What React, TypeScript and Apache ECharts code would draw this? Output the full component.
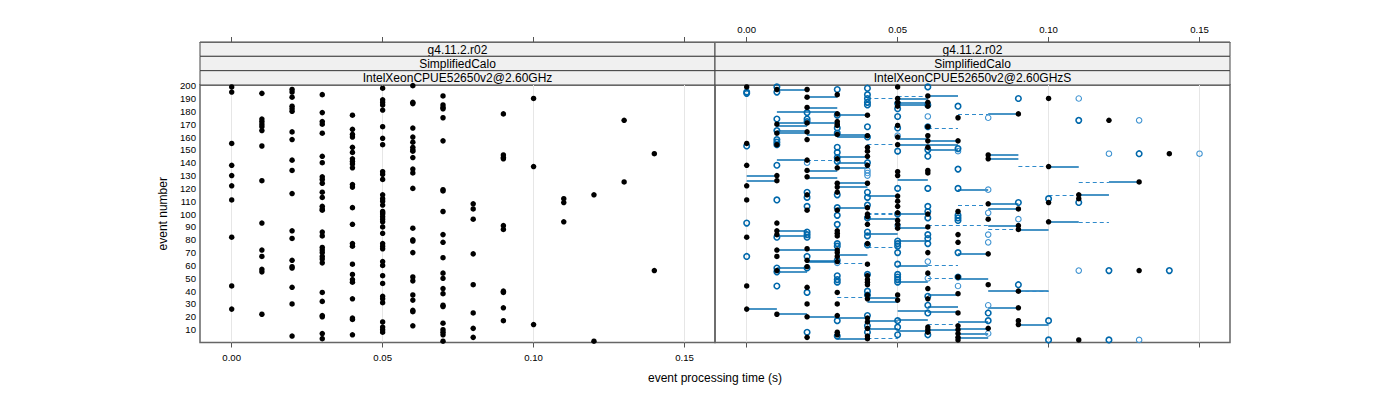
import React, { useEffect, useRef } from "react";
import * as echarts from "echarts";

// ---------- axis ticks / labels ----------
const xTicks = [0, 0.05, 0.1, 0.15];
const yTicks = [10, 20, 30, 40, 50, 60, 70, 80, 90, 100, 110, 120, 130, 140, 150, 160, 170, 180, 190, 200];
const stripLeft = ["g4.11.2.r02", "SimplifiedCalo", "IntelXeonCPUE52650v2@2.60GHz"];
const stripRight = ["g4.11.2.r02", "SimplifiedCalo", "IntelXeonCPUE52650v2@2.60GHzS"];
const xTitle = "event processing time (s)";
const yTitle = "event number";

// ---------- left panel: event numbers per processing time (s) ----------
const leftTimes = [0.0, 0.01, 0.02, 0.03, 0.04, 0.05, 0.06, 0.07, 0.08, 0.09, 0.1, 0.11, 0.12, 0.13, 0.14];
const leftT000 = [199, 195, 155, 138, 130, 122, 111, 82, 44, 26];
const leftT001 = [194, 174, 172, 170, 168, 165, 153, 126, 93, 72, 67, 57, 55, 22];
const leftT002 = [197, 195, 191, 184, 182, 180, 164, 158, 142, 134, 116, 87, 81, 64, 59, 58, 43, 30, 5];
const leftT003 = [193, 179, 172, 170, 163, 145, 140, 129, 127, 124, 117, 113, 106, 104, 103, 86, 83, 74, 72, 70, 67, 65, 62, 39, 32, 21, 20, 7, 3];
const leftT004 = [177, 166, 162, 160, 152, 148, 143, 141, 139, 136, 123, 121, 105, 92, 77, 75, 61, 53, 49, 47, 34, 19, 18, 6];
const leftT005 = [198, 189, 187, 185, 181, 168, 159, 154, 133, 131, 127, 115, 112, 110, 107, 102, 101, 100, 98, 96, 94, 90, 85, 77, 75, 73, 63, 60, 52, 46, 36, 34, 31, 16, 12, 10, 8];
const leftT006 = [200, 187, 186, 167, 160, 156, 152, 150, 149, 144, 135, 132, 120, 89, 80, 79, 70, 51, 48, 37, 33, 25, 24, 13];
const leftT007 = [192, 185, 183, 182, 175, 157, 119, 118, 102, 84, 78, 66, 54, 50, 42, 38, 29, 28, 15, 10, 8, 6, 1];
const leftT008 = [108, 104, 96, 69, 45, 23, 11, 4];
const leftT009 = [178, 146, 144, 143, 91, 88, 40, 39, 27, 17];
const leftT010 = [190, 137, 14];
const leftT011 = [112, 109, 94];
const leftT012 = [115, 1];
const leftT013 = [173, 125];
const leftT014 = [147, 56];
const leftColumns = [leftT000, leftT001, leftT002, leftT003, leftT004, leftT005, leftT006, leftT007, leftT008, leftT009, leftT010, leftT011, leftT012, leftT013, leftT014];

// ---------- right panel: [time in 1/100 s, event] ----------
const rightBlack = [
  [0, 199], [0, 155], [0, 138], [0, 122], [0, 111], [0, 82], [0, 44], [0, 26],
  [1, 197], [1, 170], [1, 163], [1, 154], [1, 130], [1, 126], [1, 93], [1, 87], [1, 84], [1, 72], [1, 67], [1, 56], [1, 22],
  [2, 197], [2, 191], [2, 183], [2, 171], [2, 164], [2, 158], [2, 142], [2, 134], [2, 129], [2, 115], [2, 103], [2, 73], [2, 64], [2, 59], [2, 43], [2, 30], [2, 20], [2, 4],
  [3, 193], [3, 178], [3, 172], [3, 170], [3, 169], [3, 162], [3, 143], [3, 136], [3, 124], [3, 121], [3, 117], [3, 103], [3, 87], [3, 85], [3, 83], [3, 72], [3, 70], [3, 67], [3, 63], [3, 39], [3, 30], [3, 21], [3, 8], [3, 6],
  [4, 177], [4, 161], [4, 152], [4, 149], [4, 145], [4, 138], [4, 124], [4, 105], [4, 100], [4, 98], [4, 92], [4, 77], [4, 61], [4, 52], [4, 49], [4, 47], [4, 45], [4, 37], [4, 34], [4, 19], [4, 16], [4, 11], [4, 5], [4, 3],
  [5, 199], [5, 190], [5, 187], [5, 184], [5, 169], [5, 160], [5, 154], [5, 133], [5, 130], [5, 114], [5, 110], [5, 106], [5, 101], [5, 95], [5, 92], [5, 89], [5, 37], [5, 33],
  [6, 192], [6, 187], [6, 184], [6, 168], [6, 161], [6, 157], [6, 152], [6, 134], [6, 132], [6, 100], [6, 90], [6, 70], [6, 54], [6, 42], [6, 34], [6, 12], [6, 10], [6, 8],
  [7, 175], [7, 157], [7, 102], [7, 84], [7, 78], [7, 51], [7, 38], [7, 23], [7, 13], [7, 10], [7, 7], [7, 4], [7, 2],
  [8, 146], [8, 143], [8, 108], [8, 96], [8, 69], [8, 45], [8, 11],
  [9, 178], [9, 104], [9, 91], [9, 88], [9, 40], [9, 27], [9, 17], [9, 14],
  [10, 190], [10, 137], [10, 109], [10, 94],
  [11, 115], [11, 112], [11, 2],
  [12, 173], [13, 125], [13, 56], [14, 147],
];
const rightBlueDark = [
  [0, 195], [0, 194], [0, 153], [0, 93], [0, 67],
  [1, 199], [1, 195], [1, 174], [1, 165], [1, 158], [1, 156], [1, 154], [1, 138], [1, 111], [1, 82], [1, 58], [1, 55], [1, 44],
  [2, 179], [2, 174], [2, 172], [2, 117], [2, 113], [2, 106], [2, 86], [2, 84], [2, 82], [2, 67], [2, 58], [2, 39], [2, 8],
  [3, 197], [3, 177], [3, 167], [3, 163], [3, 152], [3, 148], [3, 144], [3, 141], [3, 115], [3, 105], [3, 99], [3, 92], [3, 77], [3, 75], [3, 64], [3, 52], [3, 49], [3, 47], [3, 17], [3, 5],
  [4, 198], [4, 193], [4, 190], [4, 187], [4, 185], [4, 168], [4, 160], [4, 140], [4, 117], [4, 113], [4, 107], [4, 97], [4, 86], [4, 83], [4, 76], [4, 53], [4, 40], [4, 37], [4, 21], [4, 13], [4, 8],
  [5, 186], [5, 182], [5, 176], [5, 167], [5, 149], [5, 120], [5, 100], [5, 79], [5, 77], [5, 75], [5, 70], [5, 61], [5, 53], [5, 51], [5, 49], [5, 47], [5, 17], [5, 12], [5, 6],
  [6, 199], [6, 185], [6, 168], [6, 150], [6, 145], [6, 120], [6, 106], [6, 102], [6, 97], [6, 84], [6, 81], [6, 77], [6, 36], [6, 29], [6, 23], [6, 6],
  [7, 184], [7, 151], [7, 135], [7, 120], [7, 99], [7, 97], [7, 95], [7, 70], [7, 51],
  [9, 190], [11, 173], [13, 147], [10, 112], [11, 109], [9, 109], [12, 56], [14, 56], [9, 45], [8, 23], [8, 17], [10, 17], [10, 2], [12, 2],
];
const rightBlueLight = [
  [2, 140], [3, 62], [4, 134], [4, 132], [4, 130], [5, 161], [5, 91], [6, 176], [6, 63], [6, 50], [7, 149], [7, 44],
  [11, 190], [8, 175], [13, 173], [12, 147], [15, 147], [8, 119], [8, 101], [9, 96], [8, 84], [8, 78], [11, 56], [8, 29], [8, 7], [13, 2],
];
// [from, to (1/100 s), event]
const solidSegs = [
  [0, 1, 130], [0, 1, 126], [0, 1, 26],
  [1, 2, 197], [1, 3, 180], [1, 3, 171], [1, 2, 169], [1, 2, 165], [1, 2, 163], [1, 2, 142], [1, 2, 87], [1, 2, 83], [1, 3, 72], [1, 2, 58], [1, 2, 55], [1, 2, 22],
  [2, 3, 191], [2, 3, 183], [2, 4, 162], [2, 3, 134], [2, 3, 128], [2, 3, 64], [2, 3, 63], [2, 3, 20],
  [3, 4, 177], [3, 4, 160], [3, 4, 145], [3, 4, 140], [3, 4, 136], [3, 4, 124], [3, 4, 121], [3, 4, 105], [3, 4, 68], [3, 4, 19], [3, 4, 3],
  [4, 5, 114], [4, 5, 96], [4, 5, 85], [4, 5, 35], [4, 5, 32], [4, 5, 17], [4, 5, 11],
  [5, 6, 190], [5, 6, 187], [5, 6, 185], [5, 6, 159], [5, 7, 154], [5, 6, 127], [5, 6, 100], [5, 6, 89], [5, 6, 79], [5, 6, 60], [5, 6, 47], [5, 6, 25], [5, 6, 18], [5, 6, 9],
  [6, 7, 192], [6, 7, 157], [6, 7, 150], [6, 7, 37], [6, 7, 28], [6, 7, 24], [6, 7, 10],
  [7, 8, 119], [7, 8, 69], [7, 8, 50], [7, 8, 16], [7, 8, 11], [7, 8, 7], [7, 8, 4],
  [8, 9, 178], [8, 9, 146], [8, 9, 143], [10, 11, 137], [12, 13, 125], [11, 12, 115], [8, 9, 108], [8, 9, 104],
  [10, 11, 94], [8, 9, 91], [9, 10, 88], [8, 10, 40], [8, 9, 27], [9, 10, 14],
];
const dashedSegs = [
  [2, 3, 142], [4, 5, 190], [4, 5, 154], [4, 5, 101], [5, 6, 192], [6, 7, 167], [7, 8, 178], [7, 8, 107], [9, 10, 137], [11, 12, 125], [10, 11, 115],
  [3, 4, 62], [3, 4, 35], [4, 5, 100], [4, 5, 74], [4, 5, 3], [6, 8, 91], [6, 7, 60], [6, 7, 50], [6, 7, 14], [11, 12, 94], [8, 9, 88], [9, 10, 40],
];

const FONT = "'Liberation Sans', Arial, Helvetica, sans-serif";
const X_MIN = -0.0105;
const X_MAX = 0.1601;
const Y_MIN = 0;
const Y_MAX = 200.5;

const panels = [
  { left: 200, labels: stripLeft },
  { left: 715, labels: stripRight },
];
const PANEL_W = 515;
const PANEL_TOP = 85;
const PANEL_H = 257.5;
const STRIP_TOP = 42;
const STRIP_H = (PANEL_TOP - STRIP_TOP) / 3;

function buildOption() {
  const leftPoints: number[][] = [];
  leftColumns.forEach((col, i) => col.forEach((ev) => leftPoints.push([leftTimes[i], ev])));
  const toPts = (arr: number[][]) => arr.map(([t, e]) => [t / 100, e]);
  const toSegs = (arr: number[][]) => arr.map(([a, b, e]) => ({ coords: [[a / 100, e], [b / 100, e]] }));

  const xAxisBase = (gridIndex: number, position: string, labels: boolean) => ({
    type: "value",
    gridIndex,
    position,
    offset: position === "top" ? PANEL_TOP - STRIP_TOP : 0,
    min: X_MIN,
    max: X_MAX,
    axisLine: { show: position === "top", lineStyle: { color: "#666", width: 1 } },
    axisTick: { show: true, length: 5, inside: false, customValues: xTicks, lineStyle: { color: "#555" } },
    axisLabel: {
      show: labels,
      customValues: xTicks,
      formatter: (v: number) => v.toFixed(2),
      fontSize: 9.6,
      fontFamily: FONT,
      color: "#000",
      margin: position === "top" ? 8 : 10,
    },
    splitLine: { show: position === "bottom", lineStyle: { color: "#e6e6e6", width: 1 } },
  });

  const yAxisBase = (gridIndex: number, labels: boolean) => ({
    type: "value",
    gridIndex,
    min: Y_MIN,
    max: Y_MAX,
    axisLine: { show: false },
    axisTick: { show: false },
    splitLine: { show: false },
    axisLabel: {
      show: labels,
      customValues: yTicks,
      fontSize: 9.6,
      fontFamily: FONT,
      color: "#000",
      margin: 4,
    },
    name: labels ? yTitle : "",
    nameLocation: "middle",
    nameGap: 31,
    nameTextStyle: { fontSize: 12, fontFamily: FONT, color: "#000" },
  });

  const graphics: any[] = [];
  panels.forEach((p) => {
    p.labels.forEach((lab, li) => {
      graphics.push({
        type: "rect",
        shape: { x: p.left, y: STRIP_TOP + li * STRIP_H, width: PANEL_W, height: STRIP_H },
        style: { fill: "#f0f0f0", stroke: "#444", lineWidth: 1 },
        silent: true,
      });
      graphics.push({
        type: "text",
        x: p.left + PANEL_W / 2,
        y: STRIP_TOP + li * STRIP_H + STRIP_H / 2 + 0.5,
        style: { text: lab, fill: "#000", fontSize: 12, fontFamily: FONT, align: "center", verticalAlign: "middle" },
        silent: true,
      });
    });
  });
  graphics.push({
    type: "text",
    x: 715,
    y: 378,
    style: { text: xTitle, fill: "#000", fontSize: 12, fontFamily: FONT, align: "center", verticalAlign: "middle" },
    silent: true,
  });

  const blackDot = { color: "#000", opacity: 1 };

  return {
    animation: false,
    backgroundColor: "#ffffff",
    textStyle: { fontFamily: FONT },
    grid: panels.map((p) => ({
      left: p.left,
      top: PANEL_TOP,
      width: PANEL_W,
      height: PANEL_H,
      show: true,
      borderColor: "#666",
      borderWidth: 1.5,
      backgroundColor: "transparent",
      containLabel: false,
    })),
    xAxis: [
      xAxisBase(0, "bottom", true),
      xAxisBase(0, "top", false),
      xAxisBase(1, "bottom", false),
      xAxisBase(1, "top", true),
    ],
    yAxis: [yAxisBase(0, true), yAxisBase(1, false)],
    graphic: graphics,
    series: [
      {
        type: "scatter",
        xAxisIndex: 0,
        yAxisIndex: 0,
        data: leftPoints,
        symbol: "circle",
        symbolSize: 5.5,
        itemStyle: blackDot,
        clip: true,
        silent: true,
        z: 4,
      },
      {
        type: "lines",
        coordinateSystem: "cartesian2d",
        xAxisIndex: 2,
        yAxisIndex: 1,
        polyline: false,
        data: toSegs(solidSegs),
        lineStyle: { color: "#0b70b2", width: 1.6, type: "solid", opacity: 1 },
        clip: true,
        silent: true,
        z: 2,
      },
      {
        type: "lines",
        coordinateSystem: "cartesian2d",
        xAxisIndex: 2,
        yAxisIndex: 1,
        polyline: false,
        data: toSegs(dashedSegs),
        lineStyle: { color: "#2f8acb", width: 1, type: [4, 3], opacity: 1 },
        clip: true,
        silent: true,
        z: 2,
      },
      {
        type: "scatter",
        xAxisIndex: 2,
        yAxisIndex: 1,
        data: toPts(rightBlueLight),
        symbol: "circle",
        symbolSize: 5.5,
        itemStyle: { color: "rgba(0,0,0,0)", borderColor: "#3f93d1", borderWidth: 1.1, opacity: 1 },
        clip: true,
        silent: true,
        z: 3,
      },
      {
        type: "scatter",
        xAxisIndex: 2,
        yAxisIndex: 1,
        data: toPts(rightBlueDark),
        symbol: "circle",
        symbolSize: 5.5,
        itemStyle: { color: "rgba(0,0,0,0)", borderColor: "#0068ab", borderWidth: 1.6, opacity: 1 },
        clip: true,
        silent: true,
        z: 3,
      },
      {
        type: "scatter",
        xAxisIndex: 2,
        yAxisIndex: 1,
        data: toPts(rightBlack),
        symbol: "circle",
        symbolSize: 5.5,
        itemStyle: blackDot,
        clip: true,
        silent: true,
        z: 4,
      },
    ],
  };
}

export default function App() {
  const ref = useRef<HTMLDivElement>(null);
  useEffect(() => {
    if (!ref.current) return;
    const chart = echarts.init(ref.current, null, { renderer: "svg" });
    chart.setOption(buildOption() as any);
    return () => chart.dispose();
  }, []);
  return (
    <div
      ref={ref}
      style={{ position: "absolute", left: 0, top: 0, width: 1400, height: 400, background: "#fff" }}
    />
  );
}
